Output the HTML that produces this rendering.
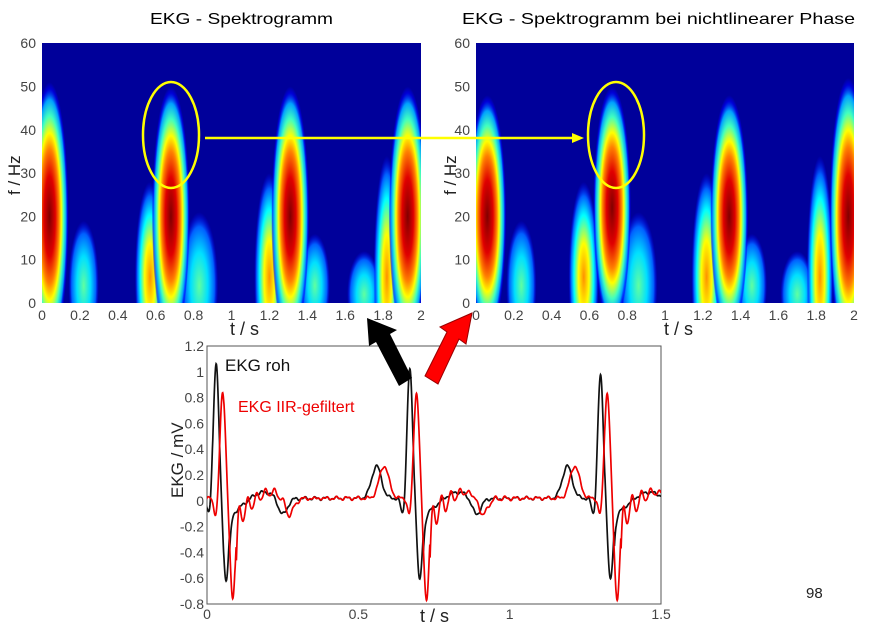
<!DOCTYPE html>
<html><head><meta charset="utf-8"><style>
html,body{margin:0;padding:0;background:#fff;}
svg text{font-family:"Liberation Sans",Arial,sans-serif;}
</style></head><body>
<svg id="s" width="871" height="631" viewBox="0 0 871 631" xmlns="http://www.w3.org/2000/svg">
<defs>
<radialGradient id="jet" cx="0.5" cy="0.5" r="0.5">
<stop offset="0" stop-color="#800000"/>
<stop offset="0.3" stop-color="#e00000"/>
<stop offset="0.5" stop-color="#ff8000"/>
<stop offset="0.62" stop-color="#ffff00"/>
<stop offset="0.75" stop-color="#40ffc0"/>
<stop offset="0.87" stop-color="#00a0ff"/>
<stop offset="0.95" stop-color="#0000ff" stop-opacity="0.6"/>
<stop offset="1" stop-color="#0000ff" stop-opacity="0"/>
</radialGradient>
<radialGradient id="cy" cx="0.5" cy="0.5" r="0.5">
<stop offset="0" stop-color="#60ffa0"/>
<stop offset="0.45" stop-color="#00e0ff"/>
<stop offset="0.8" stop-color="#0060ff"/>
<stop offset="1" stop-color="#0000ff" stop-opacity="0"/>
</radialGradient>
<radialGradient id="ye" cx="0.5" cy="0.5" r="0.5">
<stop offset="0" stop-color="#ff9000"/>
<stop offset="0.35" stop-color="#ffff00"/>
<stop offset="0.65" stop-color="#00ffff"/>
<stop offset="0.85" stop-color="#0060ff"/>
<stop offset="1" stop-color="#0000ff" stop-opacity="0"/>
</radialGradient>
<clipPath id="c1"><rect x="42" y="43" width="379" height="260"/></clipPath>
<clipPath id="c2"><rect x="476" y="43" width="378" height="260"/></clipPath>
<clipPath id="c3"><rect x="207" y="346" width="454" height="258"/></clipPath>
</defs>
<text x="150" y="24" font-size="16" textLength="183" lengthAdjust="spacingAndGlyphs">EKG - Spektrogramm</text>
<text x="462" y="24" font-size="16" textLength="393" lengthAdjust="spacingAndGlyphs">EKG - Spektrogramm  bei nichtlinearer Phase</text>
<rect x="42" y="43" width="379" height="260" fill="#00009a"/>
<rect x="476" y="43" width="378" height="260" fill="#00009a"/>
<g id="g1" clip-path="url(#c1)"></g>
<g id="g2" clip-path="url(#c2)"></g>
<g id="ax" font-size="14" fill="#444"></g>
<text x="230" y="335" font-size="18" fill="#222">t / s</text>
<text x="664" y="335" font-size="18" fill="#222">t / s</text>
<text transform="translate(20,195) rotate(-90)" font-size="17" fill="#222">f / Hz</text>
<text transform="translate(456,195) rotate(-90)" font-size="17" fill="#222">f / Hz</text>
<ellipse cx="171" cy="135" rx="28" ry="53" fill="none" stroke="#ffff00" stroke-width="2.5"/>
<ellipse cx="616" cy="135" rx="28" ry="53" fill="none" stroke="#ffff00" stroke-width="2.5"/>
<line x1="205" y1="138" x2="575" y2="138" stroke="#ffff00" stroke-width="2.5"/>
<polygon points="584,138 572,133 572,143" fill="#ffff00"/>
<rect x="207" y="346" width="454" height="258" fill="#fff" stroke="#555" stroke-width="1"/>
<g id="g3" clip-path="url(#c3)"></g>
<text x="225" y="371" font-size="17" fill="#111">EKG roh</text>
<text x="238" y="412" font-size="16" fill="#e00">EKG IIR-gefiltert</text>
<text x="420" y="622" font-size="18" fill="#222">t / s</text>
<text transform="translate(183,498) rotate(-90)" font-size="17" fill="#222">EKG / mV</text>
<text x="806" y="598" font-size="15" fill="#222">98</text>
<polygon points="367,318 397,330 390,334 412,378 399,386 376,342 369,346" fill="#000"/>
<polygon points="472,313 466,344 459,339 438,384 425,376 447,332 440,327" fill="#f00" stroke="#900" stroke-width="1"/>
</svg>
<script>
var NS="http://www.w3.org/2000/svg";
function el(p,t,a){var e=document.createElementNS(NS,t);for(var k in a)e.setAttribute(k,a[k]);p.appendChild(e);return e;}
function spec(g,x0,w,peaks,yel,cyan){
 var sx=w/2, y=function(f){return 303-f*4.33;};
 cyan.forEach(function(b){el(g,"ellipse",{cx:x0+b[0]*sx,cy:y(b[1]),rx:b[2]*sx,ry:b[3]*4.33,fill:"url(#cy)"});});
 yel.forEach(function(b){el(g,"ellipse",{cx:x0+b[0]*sx,cy:y(b[1]),rx:b[2]*sx,ry:b[3]*4.33,fill:"url(#ye)"});});
 peaks.forEach(function(b){el(g,"ellipse",{cx:x0+b[0]*sx,cy:y(b[1]),rx:b[2]*sx,ry:b[3]*4.33,fill:"url(#jet)"});});
}
spec(document.getElementById("g1"),42,379,
 [[0.04,20,0.1,31],[0.68,20,0.1,30],[1.31,20,0.1,30],[1.93,20,0.1,30]],
 [[0.57,6,0.08,22],[1.2,6,0.08,24],[1.82,6,0.07,28]],
 [[0.22,4,0.08,15],[0.83,4,0.1,17],[1.44,4,0.08,12],[1.7,2,0.09,10]]);
spec(document.getElementById("g2"),476,378,
 [[0.06,20,0.1,28],[0.72,22,0.1,28],[1.34,20,0.1,28],[1.97,20,0.1,32]],
 [[0.57,6,0.08,22],[1.22,6,0.08,24],[1.82,6,0.07,28]],
 [[0.24,4,0.08,15],[0.86,4,0.1,17],[1.46,4,0.08,12],[1.7,2,0.09,10]]);
var ax=document.getElementById("ax");
function tk(x0,x1){
 for(var i=0;i<=10;i++){var x=x0+(x1-x0)*i/10;var l=(i/5).toString();if(i==0)l="0";
  el(ax,"text",{x:x,y:320,"text-anchor":"middle"}).textContent=l;}
 for(var j=0;j<=6;j++){var yy=303-j*43.3;el(ax,"text",{x:x0-6,y:yy+5,"text-anchor":"end"}).textContent=(j*10);}
}
tk(42,421);tk(476,854);
for(var j=0;j<=10;j++){var v=(1.2-j*0.2);var yy=346+j*25.8;var s=Math.abs(v)<1e-9?"0":(Math.round(v*10)/10).toString();
 el(ax,"text",{x:204,y:yy+5,"text-anchor":"end"}).textContent=s;
 el(ax,"line",{x1:207,y1:yy,x2:211,y2:yy,stroke:"#555"});el(ax,"line",{x1:657,y1:yy,x2:661,y2:yy,stroke:"#555"});}
[[0,"0"],[0.5,"0.5"],[1,"1"],[1.5,"1.5"]].forEach(function(p){el(ax,"text",{x:207+p[0]*302.7,y:619,"text-anchor":"middle"}).textContent=p[1];});
function G(t,c,s){return Math.exp(-0.5*(t-c)*(t-c)/(s*s));}
var R=[0.03,0.67,1.3],RA=[1.05,1.0,0.95];
function ekg(t,filt){
 var v=0.02;
 for(var i=0;i<3;i++){var r=R[i]+(filt?0.022:0);
  var a=filt?0.82:RA[i];
  v+= -0.15*G(t,r-0.022,0.007)+a*G(t,r,0.009)-(filt?0.78:0.64)*G(t,r+0.033,0.009);
  if(t>r+0.045){var d=t-r-0.045;v+=-0.15*Math.exp(-d/0.06); if(filt)v+=0.12*Math.exp(-d/0.08)*Math.sin(d*2*Math.PI/0.03);}
  v+=0.07*G(t,r+0.15,0.04)-0.13*G(t,r+0.22,0.015)*(i<2?1:0);
  var p=R[i]-0.11+(filt?0.025:0);v+=0.25*G(t,p,0.016);
 }
 v+=0.01*Math.sin(t*180)+0.005*Math.sin(t*430);
 return v;}
var g3=document.getElementById("g3");
[[0,"#111"],[1,"#e00"]].forEach(function(o){var pts=[];
 for(var t=-0.01;t<=1.5;t+=0.001){pts.push((207+t*302.7).toFixed(1)+","+(346+(1.2-ekg(t,o[0]))*129).toFixed(1));}
 el(g3,"polyline",{points:pts.join(" "),fill:"none",stroke:o[1],"stroke-width":1.7});});
</script>
</body></html>
